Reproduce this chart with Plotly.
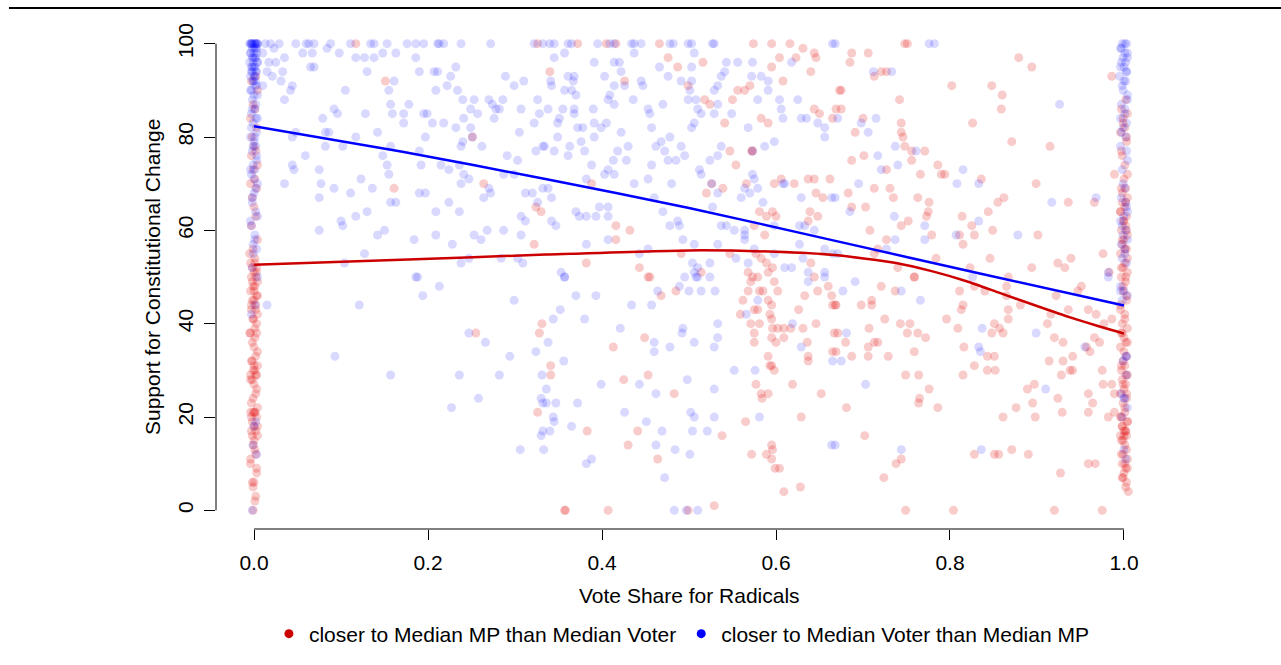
import plotly.graph_objects as go

# ---------------- data ----------------
# interior points, "closer to Median Voter than Median MP" (blue)
blue_pts = [
 (0.013,100),(0.019,100),(0.029,100),(0.048,100),(0.060,100),(0.063,100),(0.069,100),(0.088,100),(0.111,100),(0.134,100),
 (0.138,100),(0.153,100),(0.176,100),(0.186,100),(0.195,100),(0.211,100),(0.213,100),(0.218,100),(0.238,100),(0.272,100),
 (0.322,100),(0.332,100),
 (0.023,99),(0.010,98),(0.035,97),(0.056,98),(0.067,98),(0.084,99),(0.098,98),(0.117,97),(0.127,97),(0.138,97),(0.148,98),
 (0.163,98),(0.186,97),(0.017,96),(0.025,96),(0.065,95),(0.069,95),(0.015,94),(0.021,93),(0.033,94),(0.130,94),(0.190,94),
 (0.207,94),(0.211,94),(0.232,95),(0.031,92),(0.010,91),(0.161,92),(0.226,93),(0.222,91),(0.289,93),(0.299,91),(0.310,92),
 (0.042,90),(0.044,91),(0.105,90),(0.155,90),(0.209,90),(0.234,90),(0.035,88),(0.240,88),(0.253,88),(0.270,88),(0.274,87),
 (0.286,88),(0.326,88),(0.092,86),(0.096,85),(0.128,85),(0.157,87),(0.159,85),(0.178,87),(0.172,85),(0.195,85),(0.199,85),
 (0.241,84),(0.249,86),(0.257,85),(0.278,86),(0.282,86),(0.307,86),(0.328,85),(0.079,84),(0.172,83),(0.205,83),(0.218,83),
 (0.232,82),(0.249,82),(0.276,84),(0.322,83),(0.044,80),(0.048,81),(0.082,81),(0.086,81),(0.117,80),(0.142,81),(0.197,80),
 (0.305,81),(0.251,80),(0.082,78),(0.102,78),(0.157,78),(0.240,79),(0.238,78),(0.262,78),(0.332,78),(0.324,77),(0.059,76),
 (0.148,76),(0.190,77),(0.291,76),(0.303,75),(0.044,74),(0.046,73),(0.075,73),(0.153,74),(0.155,72),(0.192,74),(0.215,74),
 (0.224,73),(0.236,74),(0.241,72),(0.247,71),(0.287,72),(0.299,72),(0.035,70),(0.077,70),(0.092,69),(0.111,68),(0.123,71),
 (0.136,69),(0.190,68),(0.197,68),(0.238,70),(0.270,69),(0.272,68),(0.264,67),(0.312,68),(0.320,68),(0.332,69),(0.075,67),
 (0.157,66),(0.163,66),(0.224,66),(0.326,66),(0.117,63),(0.130,64),(0.100,62),(0.102,61),(0.209,64),(0.236,64),(0.307,63),
 (0.312,62),(0.075,60),(0.142,59),(0.150,60),(0.184,58),(0.209,59),(0.228,57),(0.253,59),(0.261,58),(0.268,60),(0.287,60),
 (0.307,59),(0.127,55),(0.104,53),(0.238,53),(0.247,54),(0.284,54),(0.303,54),(0.309,53),(0.188,50),
 (0.186,50),(0.213,48),(0.194,46),(0.015,44),(0.121,44),(0.299,45),(0.247,38),(0.266,36),(0.093,33),(0.294,33),(0.324,34),
 (0.157,29),(0.236,29),(0.282,29),(0.331,29),(0.258,24),(0.227,22),(0.330,24),(0.332,23),(0.332,17),(0.330,16),(0.306,13),
 (0.333,13),
 (0.340,100),(0.345,100),(0.361,100),(0.365,100),(0.395,100),(0.409,100),(0.414,100),(0.434,100),(0.437,100),(0.445,100),
 (0.478,100),(0.482,100),(0.499,100),(0.503,100),(0.527,100),(0.529,100),(0.665,100),
 (0.345,97),(0.391,96),(0.414,96),(0.420,96),(0.466,95),(0.503,95),(0.543,96),(0.556,96),(0.573,96),(0.618,96),(0.357,98),
 (0.437,98),(0.506,98),(0.341,92),(0.342,91),(0.361,93),(0.368,93),(0.367,92),(0.403,93),(0.422,94),(0.426,91),(0.414,91),
 (0.445,92),(0.447,91),(0.476,93),(0.491,92),(0.503,92),(0.501,90),(0.529,90),(0.537,93),(0.541,94),(0.583,93),(0.572,93),
 (0.591,92),(0.591,90),(0.533,91),(0.357,90),(0.365,90),(0.370,89),(0.409,89),(0.407,88),(0.414,87),(0.436,88),(0.453,86),
 (0.470,87),(0.455,85),(0.499,88),(0.508,88),(0.510,86),(0.514,85),(0.529,85),(0.549,85),(0.533,87),(0.579,88),(0.604,88),
 (0.606,86),(0.625,88),(0.338,86),(0.355,86),(0.368,86),(0.368,85),(0.390,86),(0.349,83),(0.351,84),(0.372,82),(0.378,82),
 (0.391,83),(0.405,83),(0.399,82),(0.422,81),(0.457,82),(0.503,82),(0.506,83),(0.568,82),(0.608,84),(0.629,84),(0.635,84),
 (0.648,83),(0.656,82),(0.656,80),(0.349,80),(0.376,79),(0.391,80),(0.587,78),(0.598,79),(0.537,78),(0.334,78),(0.345,77),
 (0.363,78),(0.361,76),(0.380,77),(0.418,77),(0.430,78),(0.428,75),(0.413,75),(0.462,78),(0.468,79),(0.472,77),(0.478,80),
 (0.476,75),(0.491,78),(0.485,75),(0.495,76),(0.524,75),(0.533,76),(0.388,74),(0.457,74),(0.573,77),(0.407,73),(0.414,72),
 (0.403,72),(0.382,71),(0.437,70),(0.453,71),(0.480,70),(0.512,73),(0.514,72),(0.573,72),(0.575,71),(0.564,69),(0.570,68),
 (0.579,69),(0.533,68),(0.560,67),(0.585,66),(0.608,70),(0.610,70),(0.629,67),(0.664,67),(0.338,69),(0.342,67),(0.526,70),
 (0.370,64),(0.374,63),(0.382,63),(0.393,63),(0.397,65),(0.407,63),(0.407,65),(0.342,62),(0.347,61),(0.460,67),(0.470,64),
 (0.478,61),(0.489,61),(0.487,62),(0.527,65),(0.537,61),(0.543,61),(0.552,60),(0.564,60),(0.564,59),(0.598,61),(0.627,61),
 (0.633,61),(0.644,60),(0.407,58),(0.382,57),(0.493,58),(0.453,56),(0.443,55),(0.506,57),(0.533,57),(0.564,58),(0.575,56),
 (0.598,55),(0.627,57),(0.631,54),(0.656,56),(0.665,55),(0.353,51),(0.357,50),(0.504,53),(0.510,52),(0.524,53),(0.506,51),
 (0.510,50),(0.554,54),(0.568,53),(0.610,52),(0.618,52),(0.637,51),(0.656,51),
 (0.357,50),(0.370,46),(0.393,46),(0.352,43),(0.344,41),(0.380,41),(0.434,44),(0.457,44),(0.464,47),(0.489,48),(0.495,50),
 (0.508,50),(0.524,50),(0.500,47),(0.514,47),(0.530,47),(0.421,39),(0.493,39),(0.492,38),(0.533,40),(0.533,37),(0.506,36),
 (0.460,36),(0.460,34),(0.478,35),(0.529,35),(0.338,36),(0.356,32),(0.399,27),(0.443,27),(0.462,25),(0.498,28),(0.529,26),
 (0.552,30),(0.576,30),(0.336,26),(0.336,23),(0.347,23),(0.372,23),(0.426,21),(0.451,19),(0.502,21),(0.506,20),(0.529,20),
 (0.581,20),(0.344,20),(0.345,19),(0.340,17),(0.365,18),(0.469,17),(0.504,17),(0.521,17),(0.462,14),(0.484,13),(0.501,12),
 (0.388,11),(0.382,10),(0.472,7),(0.483,0),(0.510,0),(0.497,0),(0.566,42),(0.579,45),(0.619,40),(0.629,35),(0.665,32),
 (0.664,14),(0.637,49),(0.656,50),
 (0.668,100),(0.776,100),(0.782,100),(0.712,94),(0.733,94),(0.671,84),(0.698,83),(0.715,84),(0.706,81),(0.737,78),
 (0.761,77),(0.717,76),(0.740,74),(0.721,73),(0.815,73),(0.695,70),(0.808,70),(0.833,70),(0.917,66),(0.968,67),(0.668,67),
 (0.685,64),(0.736,63),(0.771,61),(0.833,62),(0.737,58),(0.771,58),(0.807,59),(0.878,59),(0.926,87),(0.982,51),(0.671,55),
 (0.727,56),
 (0.677,47),(0.691,49),(0.744,47),(0.766,45),(0.681,38),(0.675,32),(0.703,27),(0.744,13),(0.836,13),(0.833,35),(0.835,34),
 (0.837,39),(0.899,38),(0.910,26),(0.955,35),(0.668,14),(0.826,50),(0.982,50),
]

# interior points, "closer to Median MP than Median Voter" (red)
red_pts = [
 (0.117,100),(0.326,100),(0.151,92),(0.251,80),(0.161,69),(0.264,70),(0.324,65),(0.330,64),(0.322,57),
 (0.255,38),(0.331,40),(0.328,38),(0.326,21),(0.357,0),
 (0.372,100),(0.405,100),(0.416,100),(0.466,100),(0.574,100),(0.595,100),(0.616,100),
 (0.340,94),(0.426,92),(0.499,91),(0.564,90),(0.570,91),(0.608,92),(0.476,97),(0.487,95),(0.516,96),(0.595,95),(0.604,97),
 (0.623,97),(0.631,99),(0.644,98),(0.646,97),(0.640,94),(0.518,88),(0.524,87),(0.550,88),(0.556,90),(0.644,86),(0.650,85),
 (0.665,84),(0.541,83),(0.583,84),(0.591,83),(0.547,77),(0.572,77),(0.554,74),(0.573,77),(0.388,70),(0.520,68),(0.539,69),
 (0.566,70),(0.598,70),(0.606,71),(0.621,70),(0.637,71),(0.644,71),(0.662,71),(0.646,68),(0.654,67),(0.526,70),(0.416,61),
 (0.432,60),(0.581,64),(0.589,63),(0.596,64),(0.600,63),(0.575,61),(0.587,59),(0.639,64),(0.648,63),(0.637,62),(0.416,58),
 (0.382,53),(0.443,52),(0.453,50),(0.491,55),(0.514,51),(0.547,55),(0.577,55),(0.583,54),(0.589,53),(0.640,53),(0.568,51),
 (0.596,52),(0.591,51),
 (0.455,50),(0.468,46),(0.485,47),(0.449,37),(0.413,35),(0.341,31),(0.341,29),(0.425,28),(0.453,29),(0.483,25),(0.383,17),
 (0.441,17),(0.430,14),(0.538,16),(0.464,11),(0.358,0),(0.407,0),(0.499,0),(0.529,1),(0.565,19),(0.572,12),(0.589,12),
 (0.595,14),(0.596,13),(0.595,11),(0.599,9),(0.604,9),(0.609,4),(0.628,5),(0.629,20),(0.619,27),(0.652,25),(0.577,27),
 (0.583,25),(0.591,25),(0.584,24),(0.562,45),(0.568,47),(0.571,49),(0.573,50),(0.579,50),(0.585,47),(0.581,47),(0.575,43),
 (0.579,43),(0.591,45),(0.595,44),(0.593,42),(0.595,41),(0.596,39),(0.602,47),(0.598,49),(0.602,39),(0.609,39),(0.609,37),
 (0.617,39),(0.631,39),(0.600,36),(0.595,37),(0.575,38),(0.575,36),(0.591,33),(0.595,31),(0.598,30),(0.593,31),(0.559,42),
 (0.571,40),(0.581,40),(0.626,43),(0.633,46),(0.644,50),(0.648,47),(0.660,48),(0.664,46),(0.665,44),(0.637,33),(0.637,32),
 (0.636,36),(0.646,40),(0.667,38),(0.665,34),
 (0.748,100),(0.751,100),(0.687,98),(0.706,98),(0.685,96),(0.713,93),(0.721,94),(0.727,94),(0.675,90),(0.673,90),(0.742,88),
 (0.675,86),(0.669,86),(0.700,84),(0.744,83),(0.691,81),(0.744,81),(0.746,80),(0.748,78),(0.756,77),(0.771,77),(0.687,75),
 (0.701,76),(0.756,75),(0.727,73),(0.786,74),(0.790,72),(0.766,72),(0.794,72),(0.836,71),(0.713,69),(0.731,69),(0.683,68),
 (0.735,67),(0.763,67),(0.776,66),(0.687,65),(0.703,65),(0.775,64),(0.773,63),(0.752,62),(0.744,61),(0.708,60),(0.727,58),
 (0.779,59),(0.811,59),(0.828,59),(0.825,61),(0.815,57),(0.814,63),(0.844,64),(0.849,60),(0.862,67),(0.855,66),(0.879,97),
 (0.894,95),(0.802,91),(0.848,91),(0.860,89),(0.859,86),(0.826,83),(0.871,79),(0.915,78),(0.899,70),(0.936,66),(0.966,66),
 (0.901,59),(0.986,93),(0.989,72),(0.976,55),(0.939,54),(0.924,53),(0.932,52),(0.894,52),(0.867,50),(0.846,54),(0.823,52),
 (0.784,54),(0.759,50),(0.740,52),(0.713,55),(0.717,56),
 (0.668,44),(0.669,44),(0.698,44),(0.710,45),(0.710,44),(0.721,48),(0.737,47),(0.759,50),(0.725,41),(0.743,40),(0.754,40),
 (0.707,39),(0.671,38),(0.680,36),(0.706,35),(0.713,36),(0.717,36),(0.751,38),(0.763,38),(0.772,37),(0.759,34),(0.669,34),
 (0.687,33),(0.706,33),(0.729,33),(0.749,29),(0.764,29),(0.776,26),(0.765,24),(0.764,23),(0.786,22),(0.681,22),(0.702,16),
 (0.744,11),(0.738,10),(0.724,7),(0.749,0),(0.804,0),(0.796,41),(0.809,39),(0.813,43),(0.815,44),(0.811,47),(0.828,48),
 (0.840,47),(0.816,35),(0.828,31),(0.843,33),(0.851,33),(0.843,30),(0.852,30),(0.815,29),(0.848,38),(0.851,40),(0.857,39),
 (0.861,38),(0.867,41),(0.867,43),(0.865,46),(0.865,48),(0.881,44),(0.889,26),(0.897,27),(0.895,23),(0.876,22),(0.861,20),
 (0.898,20),(0.924,24),(0.929,21),(0.930,32),(0.914,32),(0.941,33),(0.930,36),(0.920,37),(0.912,40),(0.916,42),(0.922,46),
 (0.936,43),(0.959,43),(0.968,42),(0.977,40),(0.986,41),(0.966,37),(0.972,36),(0.961,34),(0.957,35),(0.938,30),(0.941,30),
 (0.928,29),(0.951,48),(0.947,47),(0.975,30),(0.976,27),(0.986,27),(0.989,25),(0.959,25),(0.964,23),(0.959,21),(0.982,20),
 (0.989,21),(0.828,12),(0.851,12),(0.856,12),(0.871,13),(0.890,12),(0.959,10),(0.967,10),(0.927,8),(0.920,0),(0.975,0),
 (0.983,51),
]

# jittered columns at vote share 0 and 1
blue_left_x = [-0.004,-0.001,0.002,0.004,-0.003,0.001,-0.002,0.003,0.000,-0.004,0.002,-0.002,0.004,-0.001,0.001,-0.003,
               0.003,-0.002,0.000,-0.004,0.002,-0.001,0.001,-0.003,0.004,-0.002,0.001,-0.003,0.002,-0.001,0.003,-0.004,
               0.000,0.002,-0.002,0.003,-0.001,0.001,-0.003,0.004,0.000,-0.002,0.002,-0.004,0.001,-0.001,0.003,-0.002,
               0.004,0.001,-0.003,0.002,0.000,-0.001,0.003,-0.002,
               -0.002,0.003,-0.005,0.001,0.004,-0.003,0.000,0.002,-0.004,0.003,-0.001,0.001,-0.005,0.004,0.000,-0.002,
               0.002,-0.003,0.001,-0.001,0.003,-0.004,0.000,0.002,-0.002,0.004,-0.003,0.001,-0.001,0.003,-0.004,0.000,
               0.002,-0.002,0.004,-0.003,0.001,-0.001]
blue_left_y = [100,100,100,100,100,100,99,99,98,98,97,97,96,96,95,95,94,94,93,93,92,92,91,90,89,88,86,85,84,83,81,80,
               79,78,77,75,74,73,72,70,68,66,64,62,59,57,56,52,50,44,42,19,18,14,12,0,
               100,100,100,100,100,100,99,99,98,98,97,97,96,96,95,95,94,94,93,92,91,90,89,87,86,84,82,80,78,76,73,71,
               69,67,63,61,58,55]
red_left_y = [93,92,90,87,86,84,82,80,78,77,76,74,73,71,70,69,67,65,63,61,58,56,54,53,52,52,51,50,50,49,48,48,47,46,45,
              45,44,43,42,41,39,38,38,36,35,33,32,31,30,30,29,29,28,27,25,23,22,21,21,21,20,19,18,17,17,16,14,13,10,9,
              6,6,3,0,
              55,53,51,49,47,46,44,43,41,40,38,37,34,32,31,29,28,26,24,21,20,18,16,15,12,11,8,5,2]
red_left_x = [0.002,-0.003,0.004,-0.001,0.001,-0.004,0.003,-0.002,0.000,0.002,-0.003,0.004,-0.001,0.001,-0.004,0.003,
              -0.002,0.000,0.002,-0.003,0.004,-0.001,0.001,-0.004,0.003,-0.002,0.000,0.002,-0.003,0.004,-0.001,0.001,
              -0.004,0.003,-0.002,0.000,0.002,-0.003,0.004,-0.001,0.001,-0.004,0.003,-0.002,0.000,0.002,-0.003,0.004,
              -0.001,0.001,-0.004,0.003,-0.002,0.000,0.002,-0.003,0.004,-0.001,0.001,-0.004,0.003,-0.002,0.000,0.002,
              -0.003,0.004,-0.001,0.001,-0.004,0.003,-0.002,0.000,0.002,-0.001,
              -0.005,0.001,0.003,-0.002,0.000,0.004,-0.003,0.002,-0.001,0.003,-0.005,0.001,0.004,-0.002,0.000,0.002,
              -0.004,0.003,-0.001,0.001,-0.003,0.004,-0.002,0.000,0.002,-0.004,0.003,-0.001,0.001]
blue_right_y = [100,100,99,98,97,96,95,94,93,92,90,88,87,86,84,83,82,80,78,75,73,69,67,65,63,62,60,59,58,57,55,54,53,
                48,47,46,45,33,32,29,25,24,22,20,13,11,
                100,99,98,97,96,95,94,92,91,89,85,81,77,70,66,64,61,56,47,33,24]
blue_right_x = [0.998,1.003,0.996,1.001,1.004,0.997,1.000,1.003,0.995,1.002,0.999,1.004,0.997,1.001,0.996,1.003,0.999,
                1.002,0.996,1.004,0.998,1.001,0.997,1.003,1.000,0.996,1.002,0.999,1.004,0.997,1.001,0.998,1.003,0.996,
                1.000,1.004,0.998,1.002,0.999,1.003,0.997,1.001,1.004,0.998,1.000,1.002,
                1.001,0.997,1.004,0.999,1.002,0.996,1.003,1.000,0.998,1.004,1.001,0.997,1.003,0.999,1.002,1.004,0.998,
                1.001,0.996,1.003,1.000]
red_right_y = [88,86,85,83,82,81,79,76,71,69,69,67,66,65,64,63,62,61,60,59,58,57,56,55,53,52,51,50,49,48,46,44,42,40,
               39,38,37,36,35,33,32,31,30,29,28,27,26,25,24,23,21,20,19,18,17,17,16,16,15,14,12,11,10,9,8,7,6,4,
               84,80,77,74,72,68,66,64,62,60,58,56,54,52,50,47,45,43,41,38,36,34,31,29,27,25,22,20,19,18,17,16,15,13,
               12,10,9,7,5]
red_right_x = [1.002,0.997,1.004,0.999,1.001,0.996,1.003,0.998,1.000,0.997,1.002,1.004,0.998,1.001,0.996,1.003,0.999,
               1.002,0.997,1.004,1.000,0.998,1.003,0.996,1.001,0.999,1.004,0.997,1.002,0.999,1.003,0.996,1.001,0.998,
               1.004,0.997,1.000,1.002,0.996,1.003,0.999,1.001,0.997,1.004,0.998,1.002,1.000,0.996,1.003,0.999,1.001,
               0.997,1.004,0.998,1.000,1.002,0.996,1.003,0.999,1.001,0.997,1.004,0.998,1.002,1.000,0.999,1.003,1.005,
               0.999,1.003,0.997,1.001,1.004,0.998,1.002,0.996,1.000,1.003,0.998,1.001,1.004,0.997,1.002,0.999,1.003,
               0.996,1.001,0.998,1.004,1.000,0.997,1.002,0.999,1.003,1.001,0.996,1.004,0.998,1.002,1.000,0.997,1.003,
               0.999,1.001,1.004,0.998,1.002]

# fitted (smoothed) curves
blue_fit_x = [0.0, 0.169, 0.335, 0.5, 0.667, 0.833, 1.0]
blue_fit_y = [82.3, 76.9, 71.0, 64.8, 57.8, 50.8, 43.9]
red_fit_x = [0.0, 0.169, 0.335, 0.5, 0.6, 0.667, 0.738, 0.780, 0.819, 0.857, 0.895, 0.934, 0.972, 1.0]
red_fit_y = [52.6, 53.7, 54.8, 55.7, 55.4, 54.7, 53.0, 51.2, 49.1, 46.6, 44.1, 41.6, 39.4, 37.9]

x_ticks = [0.0, 0.2, 0.4, 0.6, 0.8, 1.0]
x_tick_labels = ["0.0", "0.2", "0.4", "0.6", "0.8", "1.0"]
y_ticks = [0, 20, 40, 60, 80, 100]

red_label = "closer to Median MP than Median Voter"
blue_label = "closer to Median Voter than Median MP"

# ---------------- figure ----------------
RED = "rgb(205,0,0)"
BLUE = "rgb(0,0,255)"
RED_PT = "rgba(225,0,0,0.2)"
BLUE_PT = "rgba(0,0,255,0.15)"
FONT = "Liberation Sans, Arial, Helvetica, sans-serif"
FS = 21

rx = [p[0] for p in red_pts] + red_left_x + red_right_x
ry = [p[1] for p in red_pts] + red_left_y + red_right_y
bx = [p[0] for p in blue_pts] + blue_left_x + blue_right_x
by = [p[1] for p in blue_pts] + blue_left_y + blue_right_y

fig = go.Figure()
fig.add_trace(go.Scatter(x=rx, y=ry, mode="markers", showlegend=False, hoverinfo="skip",
                         marker=dict(size=9, color=RED_PT, line=dict(width=0))))
fig.add_trace(go.Scatter(x=bx, y=by, mode="markers", showlegend=False, hoverinfo="skip",
                         marker=dict(size=9, color=BLUE_PT, line=dict(width=0))))
fig.add_trace(go.Scatter(x=blue_fit_x, y=blue_fit_y, mode="lines", showlegend=False,
                         line=dict(color=BLUE, width=2.5, shape="spline", smoothing=0.6)))
fig.add_trace(go.Scatter(x=red_fit_x, y=red_fit_y, mode="lines", showlegend=False,
                         line=dict(color=RED, width=2.5, shape="spline", smoothing=0.6)))
# legend entries
fig.add_trace(go.Scatter(x=[None], y=[None], mode="markers", name=red_label,
                         marker=dict(size=9, color=RED)))
fig.add_trace(go.Scatter(x=[None], y=[None], mode="markers", name=blue_label,
                         marker=dict(size=9, color=BLUE)))

W, H = 1281, 665
L, R, T, B = 216, 119, 25, 135

fig.update_layout(
    width=W, height=H, autosize=False,
    margin=dict(l=L, r=R, t=T, b=B, pad=0),
    paper_bgcolor="white", plot_bgcolor="white",
    font=dict(family=FONT, size=FS, color="black"),
    showlegend=True,
    legend=dict(orientation="h", x=0.4925, xanchor="center", y=-0.206, yanchor="middle",
                font=dict(size=FS), itemsizing="trace", bgcolor="rgba(0,0,0,0)",
                itemclick=False, itemdoubleclick=False),
    xaxis=dict(range=[-0.0437, 1.0437], showgrid=False, zeroline=False, showline=False,
               tickmode="array", tickvals=x_ticks, ticktext=x_tick_labels,
               ticks="outside", ticklen=10, tickwidth=1, tickcolor="black",
               tickfont=dict(size=FS), ticklabelstandoff=5),
    yaxis=dict(range=[-4, 104], showgrid=False, zeroline=False, showline=False,
               tickmode="array", tickvals=y_ticks, ticktext=[str(v) for v in y_ticks],
               ticks="outside", ticklen=11, tickwidth=1, tickcolor="black",
               tickangle=-90, tickfont=dict(size=FS), ticklabelstandoff=3),
    shapes=[
        dict(type="line", xref="x", yref="paper", x0=0, x1=1, y0=0, y1=0,
             line=dict(color="black", width=1)),
        dict(type="line", xref="paper", yref="y", x0=0, x1=0, y0=0, y1=100,
             line=dict(color="black", width=1)),
        dict(type="line", xref="paper", yref="paper",
             x0=(9 - L) / (W - L - R), x1=(W - L) / (W - L - R),
             y0=(H - B - 8) / (H - T - B), y1=(H - B - 8) / (H - T - B),
             line=dict(color="black", width=2)),
    ],
    annotations=[
        dict(text="Vote Share for Radicals", xref="paper", yref="paper", x=0.5,
             y=-(597 - (H - B)) / (H - T - B), xanchor="center", yanchor="middle",
             showarrow=False, font=dict(size=FS)),
        dict(text="Support for Constitutional Change", xref="paper", yref="paper",
             x=(152 - L) / (W - L - R), y=0.5, xanchor="center", yanchor="middle",
             textangle=-90, showarrow=False, font=dict(size=FS)),
    ],
)

fig.write_html("out.html", config={"displayModeBar": False},
               post_script="document.body.style.margin='0';")
